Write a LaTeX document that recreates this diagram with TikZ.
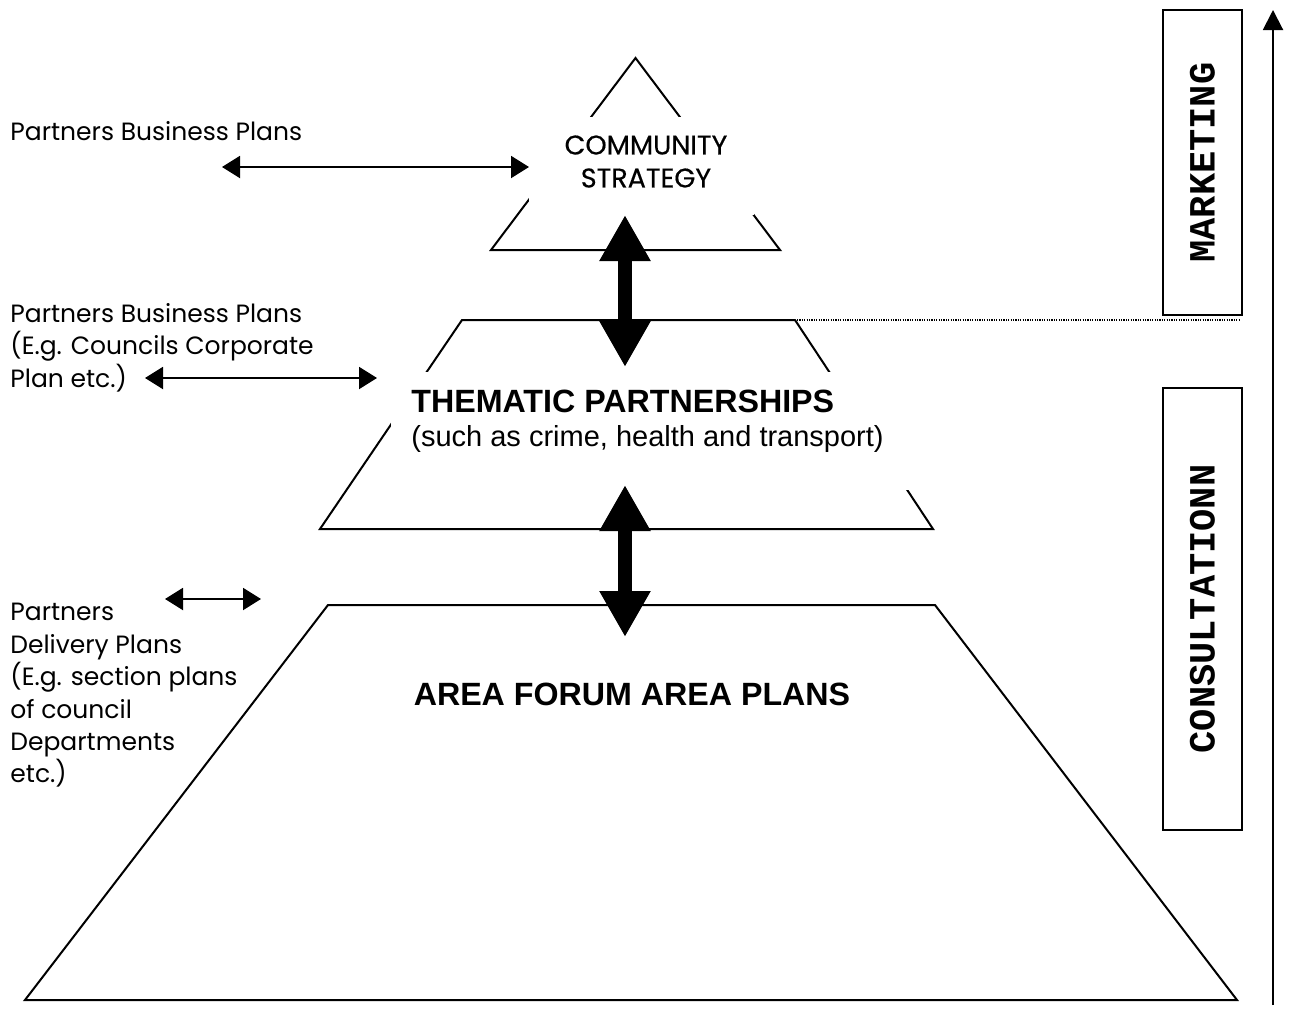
\documentclass[tikz,border=0pt]{standalone}
\usepackage{fontspec}
\setmainfont{Poppins}
\newfontfamily\popheavy[FakeBold=0.4]{Poppins}
\newfontfamily\arialfont{Liberation Sans}
\newfontfamily\courfont{Liberation Mono}
\usetikzlibrary{arrows.meta,positioning}

\tikzset{
  outline/.style={line width=1pt,line join=miter},
  mask/.style={fill=white},
  sidetext/.style={align=left,inner sep=0pt,font=\fontsize{12.5}{16.2}\selectfont},
  headtext/.style={inner sep=0pt,font=\arialfont\bfseries\fontsize{16.1}{19}\selectfont},
  sidebox/.style={draw,line width=1pt,rotate=90,inner sep=0pt,minimum height=39.5pt,
    font=\courfont\bfseries\fontsize{18.5}{20}\selectfont}
}

\begin{document}
\begin{tikzpicture}[x=0.5pt,y=-0.5pt,>={Triangle[length=9pt,width=11pt]},
  smallarrow/.style={<->,line width=1pt},
  bigarrow/.style={{Triangle[length=23pt,width=24pt]}-{Triangle[length=23pt,width=24pt]},line width=7pt}]
  \useasboundingbox (0,0) rectangle (1291,1012);
%%
  % Shape: pyramid, three levels
  \draw [outline] (491,250) -- (635.5,58) -- (780,250) -- cycle;
  \draw [outline] (462,320) -- (795,320) -- (933,529) -- (320,529) -- cycle;
  \draw [outline] (328,605) -- (935,605) -- (1237,1000) -- (25,1000) -- cycle;
  % text boxes cut the outlines
  \fill [mask] (529,117) rectangle (754,215);
  \fill [mask] (391,372) rectangle (912,490);
%
  % Node: cstrat
  \node [align=center,inner sep=0pt,font=\popheavy\fontsize{13.5}{16.5}\selectfont,anchor=north]
    (cstrat) at (646,135) {COMMUNITY\\STRATEGY};
  % Node: thematic
  \node [headtext,anchor=base west] (thematic) at (411,412) {THEMATIC PARTNERSHIPS};
  % Node: thematicsub
  \node [inner sep=0pt,font=\arialfont\fontsize{14.5}{17}\selectfont,anchor=base west]
    (thematicsub) at ([yshift=-17pt]thematic.base west) {(such as crime, health and transport)};
  % Node: areaforum
  \node [headtext,anchor=base] (areaforum) at (632,705) {AREA FORUM AREA PLANS};
%
  % Node: bizplans
  \node [sidetext,anchor=base west] (bizplans) at (10,140) {Partners Business Plans};
  % Node: corpplans
  \node [sidetext,anchor=north west] (corpplans) at (10,303)
    {Partners Business Plans\\(E.g. Councils Corporate\\Plan etc.)};
  % Node: delivplans
  \node [sidetext,anchor=north west] (delivplans) at (10,603)
    {Partners\\Delivery Plans\\(E.g. section plans\\of council\\Departments\\etc.)};
%
  % Node: marketing
  \node [sidebox,minimum width=152.5pt] (marketing) at (1202.5,162.5) {MARKETING};
  % Node: consult
  \node [sidebox,minimum width=221pt] (consult) at (1202.5,609) {CONSULTATIONN};
%
  \coordinate (bizL) at (222,167);
  \coordinate (bizR) at (529,167);
  \coordinate (corpL) at (145,378);
  \coordinate (corpR) at (377,378);
  \coordinate (delivL) at (165,599);
  \coordinate (delivR) at (261,599);
  \coordinate (topA) at (625,215);
  \coordinate (topB) at (625,367);
  \coordinate (midA) at (625,485);
  \coordinate (midB) at (625,637);
  \coordinate (midTR) at (797,320);
  \coordinate (mkEnd) at (1240,320);
  \coordinate (axisLow) at (1273,1005);
  \coordinate (axisHigh) at (1273,10);
%
  % Edge: bizplans <-> cstrat
  \draw [smallarrow] (bizL) -- (bizR);
  % Edge: corpplans <-> thematic
  \draw [smallarrow] (corpL) -- (corpR);
  % Edge: delivplans <-> areaforum
  \draw [smallarrow] (delivL) -- (delivR);
  % Edge: cstrat <-> thematic
  \draw [bigarrow] (topA) -- (topB);
  % Edge: thematic <-> areaforum
  \draw [bigarrow] (midA) -- (midB);
  % Edge: thematic .. marketing
  \draw [line width=0.6pt,dash pattern=on 0.6pt off 0.6pt] (midTR) -- (mkEnd);
  % Edge: axis
  \draw [->,line width=1pt,>={Triangle[length=10pt,width=10pt]}] (axisLow) -- (axisHigh);
%
\end{tikzpicture}
\end{document}
